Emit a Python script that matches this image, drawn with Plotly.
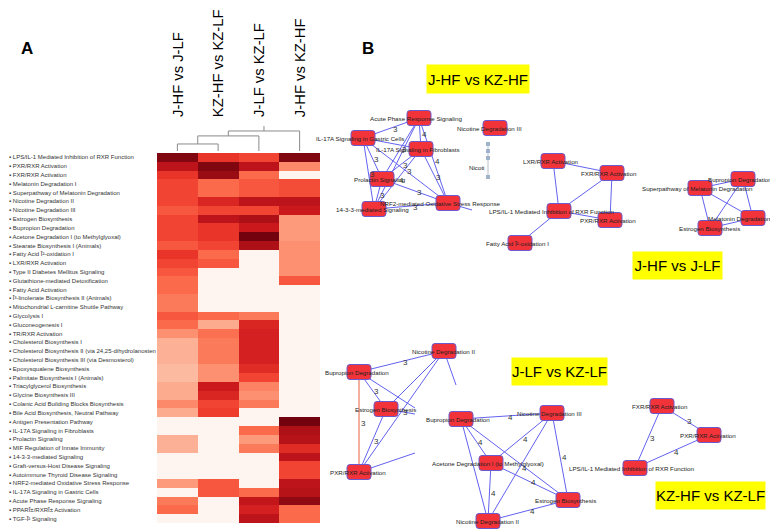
import plotly.graph_objects as go

W, H = 778, 530
OFF = 8                      # browser body margin
FW, FH = W - OFF, H - OFF    # figure size
FONT = "Liberation Sans, Arial, sans-serif"

# ---------------- DATA ----------------
pathways = [
    "LPS/IL-1 Mediated Inhibition of RXR Function",
    "PXR/RXR Activation",
    "FXR/RXR Activation",
    "Melatonin Degradation I",
    "Superpathway of Melatonin Degradation",
    "Nicotine Degradation II",
    "Nicotine Degradation III",
    "Estrogen Biosynthesis",
    "Bupropion Degradation",
    "Acetone Degradation I (to Methylglyoxal)",
    "Stearate Biosynthesis I (Animals)",
    "Fatty Acid Î²-oxidation I",
    "LXR/RXR Activation",
    "Type II Diabetes Mellitus Signaling",
    "Glutathione-mediated Detoxification",
    "Fatty Acid Activation",
    "Î³-linolenate Biosynthesis II (Animals)",
    "Mitochondrial L-carnitine Shuttle Pathway",
    "Glycolysis I",
    "Gluconeogenesis I",
    "TR/RXR Activation",
    "Cholesterol Biosynthesis I",
    "Cholesterol Biosynthesis II (via 24,25-dihydrolanosten",
    "Cholesterol Biosynthesis III (via Desmosterol)",
    "Epoxysqualene Biosynthesis",
    "Palmitate Biosynthesis I (Animals)",
    "Triacylglycerol Biosynthesis",
    "Glycine Biosynthesis III",
    "Colanic Acid Building Blocks Biosynthesis",
    "Bile Acid Biosynthesis, Neutral Pathway",
    "Antigen Presentation Pathway",
    "IL-17A Signaling in Fibroblasts",
    "Prolactin Signaling",
    "MIF Regulation of Innate Immunity",
    "14-3-3-mediated Signaling",
    "Graft-versus-Host Disease Signaling",
    "Autoimmune Thyroid Disease Signaling",
    "NRF2-mediated Oxidative Stress Response",
    "IL-17A Signaling in Gastric Cells",
    "Acute Phase Response Signaling",
    "PPARÎ±/RXRÎ± Activation",
    "TGF-Î² Signaling",
]

comparisons = ["J-HF vs J-LF", "KZ-HF vs KZ-LF", "J-LF vs KZ-LF", "J-HF vs KZ-HF"]

jhf_vs_jlf = [0.95, 0.80, 0.65, 0.60, 0.60, 0.60, 0.55, 0.60, 0.60, 0.60, 0.55, 0.65, 0.60, 0.55,
              0.50, 0.50, 0.45, 0.45, 0.55, 0.50, 0.38, 0.28, 0.28, 0.28, 0.25, 0.25, 0.30, 0.30,
              0.40, 0.30, 0.00, 0.00, 0.28, 0.28, 0.00, 0.00, 0.00, 0.35, 0.00, 0.45, 0.50, 0.00]
kzhf_vs_kzlf = [0.65, 0.95, 0.90, 0.50, 0.50, 0.70, 0.60, 0.80, 0.65, 0.65, 0.60, 0.50, 0.55, 0.00,
                0.00, 0.00, 0.00, 0.00, 0.50, 0.30, 0.48, 0.45, 0.45, 0.45, 0.38, 0.38, 0.75, 0.70,
                0.60, 0.62, 0.00, 0.00, 0.00, 0.00, 0.00, 0.00, 0.00, 0.55, 0.55, 0.00, 0.00, 0.00]
jlf_vs_kzlf = [0.60, 0.80, 0.50, 0.55, 0.55, 0.80, 0.60, 0.85, 0.75, 0.98, 0.85, 0.00, 0.00, 0.00,
               0.00, 0.00, 0.00, 0.00, 0.45, 0.70, 0.72, 0.72, 0.72, 0.72, 0.68, 0.60, 0.42, 0.38,
               0.45, 0.00, 0.00, 0.50, 0.35, 0.45, 0.00, 0.00, 0.00, 0.00, 0.50, 0.78, 0.72, 0.80]
jhf_vs_kzhf = [0.95, 0.40, 0.00, 0.58, 0.58, 0.80, 0.75, 0.35, 0.35, 0.35, 0.38, 0.38, 0.38, 0.38,
               0.55, 0.00, 0.00, 0.00, 0.00, 0.00, 0.00, 0.00, 0.00, 0.00, 0.00, 0.00, 0.00, 0.00,
               0.00, 0.00, 0.98, 0.85, 0.82, 0.68, 0.80, 0.60, 0.60, 0.80, 0.82, 0.92, 0.50, 0.50]

# dendrogram merges: (child a, child b, height); leaves are columns 0..3, merged clusters 4,5,6
dendro_merges = [(0, 1, 0.27), (4, 2, 0.58), (5, 3, 0.77)]
dendro_root = 0.96

# networks: node names and edges (i, j, weight)
net_titles = ["J-HF vs KZ-HF", "J-HF vs J-LF", "J-LF vs KZ-LF", "KZ-HF vs KZ-LF"]
networks = [
    dict(nodes=["Acute Phase Response Signaling", "IL-17A Signaling in Gastric Cells",
                "IL-17A Signaling in Fibroblasts", "Prolactin Signaling",
                "14-3-3-mediated Signaling", "NRF2-mediated Oxidative Stress Response"],
         edges=[(0, 1, 3), (0, 2, 4), (0, 3, 3), (0, 4, None), (0, 5, 4), (1, 2, None),
                (1, 3, 3), (1, 4, 3), (1, 5, 3), (2, 3, 3), (2, 4, 4), (2, 5, 3),
                (3, 4, 3), (3, 5, 3), (4, 5, 3)]),
    dict(nodes=["Nicotine Degradation III"], edges=[]),
    dict(nodes=["LXR/RXR Activation", "FXR/RXR Activation",
                "LPS/IL-1 Mediated Inhibition of RXR Function", "PXR/RXR Activation",
                "Fatty Acid Î²-oxidation I"],
         edges=[(0, 1, None), (0, 2, None), (1, 2, None), (1, 3, None), (2, 3, None), (2, 4, None)]),
    dict(nodes=["Bupropion Degradation", "Superpathway of Melatonin Degradation",
                "Melatonin Degradation I", "Estrogen Biosynthesis"],
         edges=[(0, 1, None), (0, 2, None), (0, 3, None), (1, 2, None), (1, 3, None), (2, 3, None)]),
    dict(nodes=["Nicotine Degradation II", "Bupropion Degradation", "Estrogen Biosynthesis",
                "PXR/RXR Activation"],
         edges=[(1, 0, 3), (1, 2, 3), (1, 3, 3), (2, 0, None), (2, 3, 3), (3, 0, 3)]),
    dict(nodes=["Bupropion Degradation", "Nicotine Degradation III",
                "Acetone Degradation I (to Methylglyoxal)", "Estrogen Biosynthesis",
                "Nicotine Degradation II"],
         edges=[(0, 1, 4), (0, 2, 4), (0, 3, None), (0, 4, None), (1, 2, 4), (1, 3, 4),
                (1, 4, 4), (2, 3, 4), (2, 4, 4), (3, 4, 4)]),
    dict(nodes=["FXR/RXR Activation", "PXR/RXR Activation",
                "LPS/IL-1 Mediated Inhibition of RXR Function"],
         edges=[(0, 1, 3), (0, 2, 3), (1, 2, 4)]),
]

# ---------------- LAYOUT (screen pixel positions) ----------------
net_layout = [
    [(419, 118, 416), (363, 138, 360), (421, 149, 418), (382, 179, 380), (374, 209, 372), (448, 203, 440)],
    [(495, 128, 489)],
    [(553, 161, 551), (612, 173, 609), (559, 211, 551), (610, 220, 608), (520, 243, 517)],
    [(743, 179, 740), (700, 188, 697), (753, 218, 741), (710, 228, 709)],
    [(444, 351, 443), (359, 372, 357), (386, 409, 385), (359, 472, 358)],
    [(461, 419, 458), (552, 413, 549), (491, 463, 488), (568, 500, 565), (488, 521, 487)],
    [(662, 406, 660), (709, 435, 708), (635, 468, 631)],
]
stub_edges = [(4, 1, 415, 408), (4, 2, 415, 414), (4, 3, 415, 453), (4, 0, 456, 385), (0, 5, 472, 210)]
title_boxes = [(478, 79, 102, 28), (677, 265, 89, 27), (559, 371, 95, 27), (710, 495, 109, 27)]
chain_pts = [(488, 144), (488, 151), (488, 158), (488, 177)]
NODE_W, NODE_H = 24, 15
EDGE_COL = "#6262f0"


def px(p):   # screen x -> paper
    return (p - OFF) / FW


def py(p):   # screen y -> paper
    return (OFF + FH - p) / FH


fig = go.Figure()

# heatmap
z = [list(r) for r in zip(jhf_vs_jlf, kzhf_vs_kzlf, jlf_vs_kzlf, jhf_vs_kzhf)]
fig.add_trace(go.Heatmap(z=z, x=list(range(len(comparisons))), y=list(range(len(pathways))),
                         colorscale="Reds", zmin=0, zmax=1, showscale=False,
                         xaxis="x", yaxis="y", hoverinfo="skip"))

# dendrogram
nx = list(range(len(comparisons)))
nh = [0.0] * len(comparisons)
dx, dy = [], []
for a, b, h in dendro_merges:
    dx += [nx[a], nx[a], nx[b], nx[b], None]
    dy += [nh[a], h, h, nh[b], None]
    nx.append((nx[a] + nx[b]) / 2)
    nh.append(h)
dx += [nx[-1], nx[-1]]
dy += [nh[-1], dendro_root]
fig.add_trace(go.Scatter(x=dx, y=dy, mode="lines", line=dict(color="#8a8a8a", width=1),
                         xaxis="x", yaxis="y3", hoverinfo="skip", showlegend=False))

annotations = []
shapes = []

# row labels
for i, p in enumerate(pathways):
    annotations.append(dict(x=0, xref="paper", y=i, yref="y", text="▪ " + p, showarrow=False,
                            xanchor="left", yanchor="middle", borderpad=0,
                            font=dict(family=FONT, size=6.0, color="#333")))
# column titles
for j, c in enumerate(comparisons):
    annotations.append(dict(x=j, xref="x", y=py(118), yref="paper", text=c, textangle=-90,
                            showarrow=False, xanchor="center", yanchor="bottom", borderpad=0,
                            font=dict(family=FONT, size=14.8, color="#000")))
# panel letters
annotations.append(dict(x=27, y=48, xref="x2", yref="y2", text="<b>A</b>", showarrow=False,
                        font=dict(family=FONT, size=17, color="#000")))
annotations.append(dict(x=368, y=48, xref="x2", yref="y2", text="<b>B</b>", showarrow=False,
                        font=dict(family=FONT, size=17, color="#000")))


def rrect(cx, cy, w, h, r=3):
    x0, x1, y0, y1 = cx - w / 2, cx + w / 2, cy - h / 2, cy + h / 2
    return (f"M{x0 + r},{y0} L{x1 - r},{y0} Q{x1},{y0} {x1},{y0 + r} L{x1},{y1 - r} "
            f"Q{x1},{y1} {x1 - r},{y1} L{x0 + r},{y1} Q{x0},{y1} {x0},{y1 - r} "
            f"L{x0},{y0 + r} Q{x0},{y0} {x0 + r},{y0} Z")


ex, ey = [], []
ox, oy = [], []
for k, net in enumerate(networks):
    pos = net_layout[k]
    for (i, j, w) in net["edges"]:
        (x1, y1, _), (x2, y2, _) = pos[i], pos[j]
        if k == 4 and (i, j) == (1, 3):
            ox += [x1, x2, None]
            oy += [y1, y2, None]
        else:
            ex += [x1, x2, None]
            ey += [y1, y2, None]
        if w is not None:
            annotations.append(dict(x=(x1 + x2) / 2 + 4, y=(y1 + y2) / 2 + 1, xref="x2", yref="y2",
                                    text=str(w), showarrow=False,
                                    font=dict(family=FONT, size=8, color="#333")))
    for (name, (x, y, lx)) in zip(net["nodes"], pos):
        shapes.append(dict(type="path", path=rrect(x, y, NODE_W, NODE_H), xref="x2", yref="y2",
                           fillcolor="#f2333a", line=dict(color="#6a5acd", width=1), layer="above"))
        annotations.append(dict(x=lx, y=y, xref="x2", yref="y2", text=name, showarrow=False,
                                font=dict(family=FONT, size=6.2, color="#222")))
for (k, i, x2, y2) in stub_edges:
    x1, y1, _ = net_layout[k][i]
    ex += [x1, x2, None]
    ey += [y1, y2, None]

fig.add_trace(go.Scatter(x=ex, y=ey, mode="lines", line=dict(color=EDGE_COL, width=1),
                         xaxis="x2", yaxis="y2", hoverinfo="skip", showlegend=False))
fig.add_trace(go.Scatter(x=ox, y=oy, mode="lines", line=dict(color="#e8603a", width=1),
                         xaxis="x2", yaxis="y2", hoverinfo="skip", showlegend=False))
fig.add_trace(go.Scatter(x=[p[0] for p in chain_pts], y=[p[1] for p in chain_pts], mode="lines+markers",
                         line=dict(color="#b8c0c8", width=1),
                         marker=dict(symbol="square", size=4, color="#9fb4c8"),
                         xaxis="x2", yaxis="y2", hoverinfo="skip", showlegend=False))
annotations.append(dict(x=476, y=167, xref="x2", yref="y2", text="Nicoti", showarrow=False,
                        font=dict(family=FONT, size=6.2, color="#222")))

# yellow title boxes
for t, (x, y, bw, bh) in zip(net_titles, title_boxes):
    annotations.append(dict(x=x, y=y, xref="x2", yref="y2", text=t, showarrow=False,
                            width=bw, height=bh, bgcolor="#ffff00", borderpad=0,
                            font=dict(family=FONT, size=15, color="#000")))

ax_off = dict(showgrid=False, zeroline=False, showticklabels=False, ticks="", showline=False)
fig.update_layout(
    width=FW, height=FH, margin=dict(l=0, r=0, t=0, b=0),
    paper_bgcolor="white", plot_bgcolor="rgba(0,0,0,0)", showlegend=False,
    xaxis=dict(domain=[px(157), px(320)], range=[-0.5, 3.5], anchor="y", **ax_off),
    yaxis=dict(domain=[py(523), py(153)], range=[len(pathways) - 0.5, -0.5], anchor="x", **ax_off),
    yaxis3=dict(domain=[py(151), py(125)], range=[0, 1], anchor="x", **ax_off),
    xaxis2=dict(domain=[0, 1], range=[OFF, OFF + FW], anchor="y2", **ax_off),
    yaxis2=dict(domain=[0, 1], range=[OFF + FH, OFF], anchor="x2", **ax_off),
    annotations=annotations, shapes=shapes,
)

fig.write_html("out.html")
